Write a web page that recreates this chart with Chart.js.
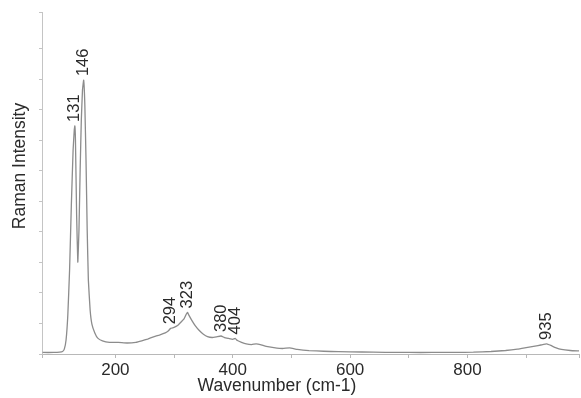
<!DOCTYPE html>
<html>
<head>
<meta charset="utf-8">
<script src="https://cdn.jsdelivr.net/npm/chart.js@4"></script>
<style>
  html, body { margin: 0; padding: 0; background: #fff; }
  #wrap { width: 581px; height: 398px; }
</style>
</head>
<body>
<div id="wrap"><canvas id="raman" width="581" height="398"></canvas></div>
<script>
// spectrum (wavenumber cm-1, intensity a.u.)
const wavenumber = [76, 95, 105, 110, 113, 116, 119, 122, 125, 128, 130, 131, 132, 134, 136, 138, 140, 142, 144, 146,
  148, 150, 152, 154, 157, 160, 165, 170, 178, 190, 205, 220, 235, 245, 255, 265, 275, 285, 290, 294,
  300, 306, 312, 317, 321, 323, 325, 330, 336, 343, 350, 357, 365, 372, 380, 386, 393, 400, 404, 408,
  415, 423, 432, 440, 447, 457, 470, 485, 497, 510, 530, 555, 580, 620, 660, 700, 740, 780, 810, 840,
  865, 885, 900, 915, 925, 935, 942, 950, 960, 975, 990];
const intensity = [5, 5, 6, 8, 16, 46, 128, 275, 488, 668, 734, 747, 701, 455, 301, 406, 603, 766, 865, 897,
  815, 635, 406, 242, 144, 98, 69, 52, 43, 38, 38, 36, 38, 43, 49, 56, 62, 69, 75, 84,
  87, 93, 105, 115, 131, 136, 128, 111, 93, 77, 65, 57, 54, 56, 59, 54, 51, 48, 51, 44,
  38, 33, 31, 33, 31, 25, 21, 18, 20, 15, 11, 9, 7.5, 6.5, 5.6, 5, 5, 5.2, 5.9, 8.2,
  11.5, 16, 21, 26, 29.5, 33, 28, 21, 15, 11.5, 10];
const peakLabels = [131, 146, 294, 323, 380, 404, 935];

const points = wavenumber.map((w, i) => ({ x: w, y: intensity[i] }));

const peakPlugin = {
  id: "peaks",
  afterDatasetsDraw(chart) {
    const { ctx, scales } = chart;
    ctx.save();
    ctx.fillStyle = "#2a2a2a";
    ctx.font = "16.5px 'Liberation Sans', Arial, sans-serif";
    ctx.textAlign = "left";
    ctx.textBaseline = "middle";
    peakLabels.forEach(p => {
      const i = wavenumber.indexOf(p);
      const x = scales.x.getPixelForValue(p);
      const y = scales.y.getPixelForValue(intensity[i]) - 4;
      ctx.save();
      ctx.translate(x, y);
      ctx.rotate(-Math.PI / 2);
      ctx.fillText(String(p), 0, 0);
      ctx.restore();
    });
    ctx.restore();
  }
};

const titlePlugin = {
  id: "axisTitles",
  afterDraw(chart) {
    const { ctx } = chart;
    ctx.save();
    ctx.fillStyle = "#2a2a2a";
    ctx.font = "17.5px 'Liberation Sans', Arial, sans-serif";
    ctx.textAlign = "center";
    ctx.textBaseline = "middle";
    ctx.fillText("Wavenumber (cm-1)", 277, 386);
    ctx.translate(20, 166);
    ctx.rotate(-Math.PI / 2);
    ctx.fillText("Raman Intensity", 0, 0);
    ctx.restore();
  }
};

new Chart(document.getElementById("raman"), {
  type: "line",
  data: {
    datasets: [{
      data: points,
      borderColor: "#8c8c8c",
      borderWidth: 1.3,
      pointRadius: 0,
      tension: 0.1,
      fill: false
    }]
  },
  options: {
    responsive: false,
    animation: false,
    events: [],
    layout: { padding: { top: 12, right: 1, left: 0, bottom: 0 } },
    plugins: { legend: { display: false }, tooltip: { enabled: false } },
    scales: {
      x: {
        type: "linear",
        min: 75,
        max: 990,
        afterFit: s => { s.height = 44; },
        border: { color: "#b8b8b8", width: 1 },
        grid: { drawOnChartArea: false, tickLength: 4, color: "#b8b8b8" },
        ticks: {
          stepSize: 100,
          autoSkip: false,
          maxRotation: 0,
          padding: 2,
          color: "#2a2a2a",
          font: { family: "'Liberation Sans', Arial, sans-serif", size: 17 },
          callback: v => (v % 200 === 0 ? v : "")
        }
      },
      y: {
        min: 0,
        max: 1120,
        afterFit: s => { s.width = 42; },
        border: { color: "#c4c4c4", width: 1, dash: [2, 2] },
        grid: { drawOnChartArea: false, tickLength: 3, color: "#c4c4c4" },
        ticks: { stepSize: 100, display: false }
      }
    }
  },
  plugins: [peakPlugin, titlePlugin]
});
</script>
</body>
</html>
